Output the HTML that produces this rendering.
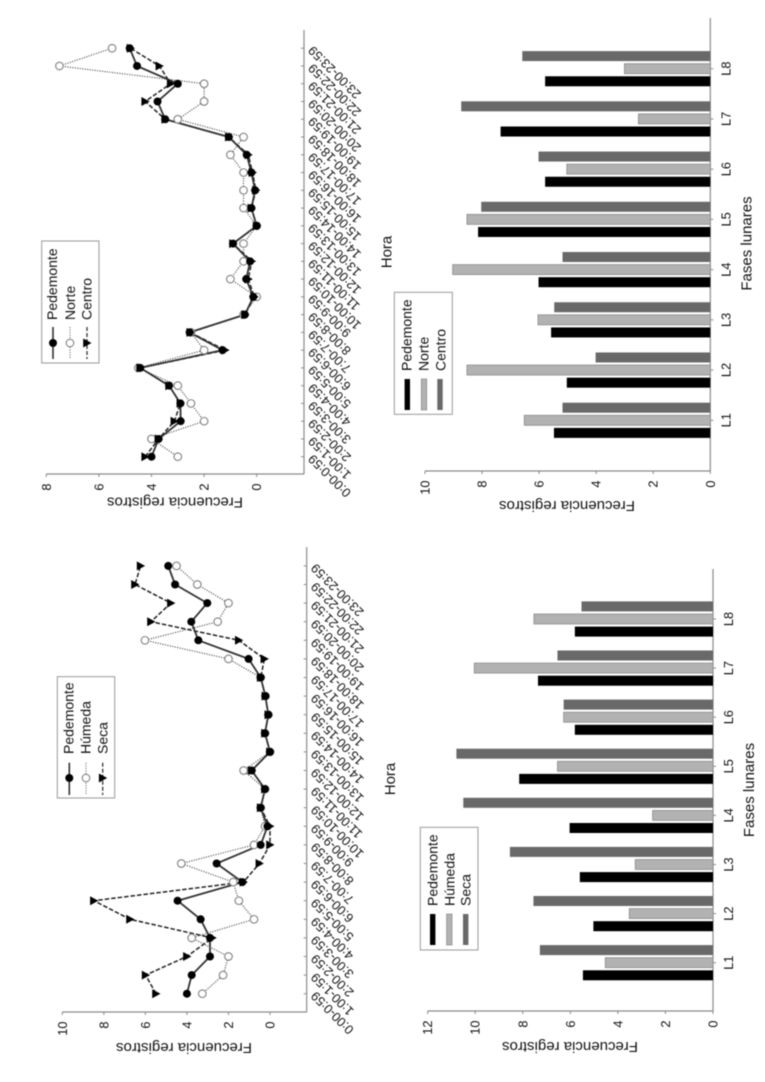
<!DOCTYPE html>
<html lang="es">
<head>
<meta charset="utf-8">
<title>Frecuencia de registros por hora y fase lunar</title>
<style>
html,body{margin:0;padding:0;background:#fff;}
svg{display:block;filter:blur(0.5px);}
text{font-family:"Liberation Sans",Arial,sans-serif;fill:#111;}
.title{font-size:15px;}
.legend{font-size:14px;}
.tick{font-size:12.8px;}
</style>
</head>
<body>
<svg id="figure" xmlns="http://www.w3.org/2000/svg" width="765" height="1082" viewBox="0 0 765 1082">
  <rect x="0" y="0" width="765" height="1082" fill="#fff"/>

  <!-- Panel A titles and legend -->
  <text class="title" text-anchor="middle" transform="translate(175 502.7) rotate(180) translate(0 5)">Frecuencia registros</text>
  <text class="title" text-anchor="middle" transform="translate(391.7 252) rotate(-90)">Hora</text>
  <g>
    <rect x="41.7" y="241" width="57.3" height="122" fill="#fff" stroke="#999" stroke-width="1"/>
    <line x1="53" x2="53" y1="327" y2="359" stroke="#333" stroke-width="1.6"/>
    <circle cx="53" cy="343" r="4" fill="#000"/>
    <line x1="70" x2="70" y1="327" y2="359" stroke="#555" stroke-width="1" stroke-dasharray="1 1.5"/>
    <circle cx="70" cy="343" r="3.8" fill="#fff" stroke="#777" stroke-width="1"/>
    <line x1="87" x2="87" y1="327" y2="359" stroke="#333" stroke-width="1.3" stroke-dasharray="4 2"/>
    <polygon points="83.2,338.5 83.2,347.5 91.5,343" fill="#000"/>
    <text class="legend" transform="translate(57 320) rotate(-90)">Pedemonte</text>
    <text class="legend" transform="translate(75 320) rotate(-90)">Norte</text>
    <text class="legend" transform="translate(91.5 320) rotate(-90)">Centro</text>
  </g>

  <!-- Panel B titles and legend -->
  <text class="title" text-anchor="middle" transform="translate(567 506) rotate(180) translate(0 5)">Frecuencia registros</text>
  <text class="title" text-anchor="middle" transform="translate(751.7 243.5) rotate(-90)">Fases lunares</text>
  <g>
    <rect x="394.3" y="292.3" width="58" height="122" fill="#fff" stroke="#999" stroke-width="1"/>
    <rect x="404.6" y="379" width="5.4" height="31" fill="#000"/>
    <rect x="421.3" y="379" width="5.4" height="31" fill="#b2b2b2" stroke="#888" stroke-width="0.7"/>
    <rect x="437.3" y="379" width="5.4" height="31" fill="#696969"/>
    <text class="legend" transform="translate(411.7 371) rotate(-90)">Pedemonte</text>
    <text class="legend" transform="translate(428.7 371) rotate(-90)">Norte</text>
    <text class="legend" transform="translate(445.3 371) rotate(-90)">Centro</text>
  </g>

  <!-- Panel C titles and legend -->
  <text class="title" text-anchor="middle" transform="translate(184 1048) rotate(180) translate(0 5)">Frecuencia registros</text>
  <text class="title" text-anchor="middle" transform="translate(395 779) rotate(-90)">Hora</text>
  <g>
    <rect x="57.3" y="676.7" width="57.4" height="121.3" fill="#fff" stroke="#999" stroke-width="1"/>
    <line x1="69.3" x2="69.3" y1="762.7" y2="795" stroke="#333" stroke-width="1.6"/>
    <circle cx="69.3" cy="778" r="4" fill="#000"/>
    <line x1="86" x2="86" y1="762.7" y2="795" stroke="#555" stroke-width="1" stroke-dasharray="1 1.5"/>
    <circle cx="86" cy="778" r="3.8" fill="#fff" stroke="#777" stroke-width="1"/>
    <line x1="102.7" x2="102.7" y1="762.7" y2="795" stroke="#333" stroke-width="1.3" stroke-dasharray="4 2"/>
    <polygon points="98.9,773.5 98.9,782.5 107.2,778" fill="#000"/>
    <text class="legend" transform="translate(73.3 754) rotate(-90)">Pedemonte</text>
    <text class="legend" transform="translate(90.7 754) rotate(-90)">Húmeda</text>
    <text class="legend" transform="translate(107.3 754) rotate(-90)">Seca</text>
  </g>

  <!-- Panel D titles and legend -->
  <text class="title" text-anchor="middle" transform="translate(570 1047) rotate(180) translate(0 5)">Frecuencia registros</text>
  <text class="title" text-anchor="middle" transform="translate(754 790) rotate(-90)">Fases lunares</text>
  <g>
    <rect x="420.3" y="827.3" width="57.7" height="122.7" fill="#fff" stroke="#999" stroke-width="1"/>
    <rect x="430" y="914" width="5.4" height="31" fill="#000"/>
    <rect x="446.6" y="914" width="5.4" height="31" fill="#b2b2b2" stroke="#888" stroke-width="0.7"/>
    <rect x="463" y="914" width="5.4" height="31" fill="#696969"/>
    <text class="legend" transform="translate(437.3 906) rotate(-90)">Pedemonte</text>
    <text class="legend" transform="translate(454.3 906) rotate(-90)">Húmeda</text>
    <text class="legend" transform="translate(470.3 906) rotate(-90)">Seca</text>
  </g>
</svg>

<script>
// Shared categories
const hourLabels = ["0:00-0:59","1:00-1:59","2:00-2:59","3:00-3:59","4:00-4:59","5:00-5:59","6:00-6:59","7:00-7:59","8:00-8:59","9:00-9:59","10:00-10:59","11:00-11:59","12:00-12:59","13:00-13:59","14:00-14:59","15:00-15:59","16:00-16:59","17:00-17:59","18:00-18:59","19:00-19:59","20:00-20:59","21:00-21:59","22:00-22:59","23:00-23:59"];
const phaseLabels = ["L1","L2","L3","L4","L5","L6","L7","L8"];

// Panel A: hourly, Pedemonte / Norte / Centro
const hourNorthTicks = [0,2,4,6,8];
const hourNorthPedemonte = [4,3.73,2.89,2.9,3.33,4.43,1.3,2.55,0.45,0.13,0.4,0.25,0.9,0,0.2,0.06,0.2,0.38,1.06,3.48,3.77,3,4.55,4.83];
const hourNorthNorte = [3,4,2,2.5,3,4.5,2,2.5,0.5,0,1,0.5,0.5,0,0.5,0.5,0.5,1,0.5,3,2,2,7.5,5.5];
const hourNorthCentro = [4.24,3.73,3.13,2.9,3.33,4.43,1.2,2.53,0.44,0.09,0.32,0.19,0.9,0,0.2,0.03,0.16,0.32,1.06,3.48,4.24,3.27,3.7,4.8];

// Panel C: hourly, Pedemonte / Humeda / Seca
const hourHumidityTicks = [0,2,4,6,8,10];
const hourHumidityPedemonte = [4,3.77,2.89,2.89,3.34,4.45,1.33,2.57,0.45,0.12,0.45,0.24,0.88,0,0.24,0.08,0.22,0.45,1.03,3.45,3.79,3.02,4.57,4.9];
const hourHumidityHumeda = [3.26,2.26,2,3.77,0.77,1.5,1.77,4.27,0.77,0.24,0.45,0.24,1.27,0,0.24,0.08,0.22,0.45,2,6.02,2.52,2,3.5,4.5];
const hourHumiditySeca = [5.49,5.99,4,2.78,6.74,8.48,1.28,0.51,0,0,0.45,0.24,0.88,0,0.24,0.08,0.22,0.45,0.27,1.5,5.73,4.77,6.5,6.23];

// Panel B: lunar phases, Pedemonte / Norte / Centro
const phaseNorthTicks = [0,2,4,6,8,10];
const phaseNorthPedemonte = [5.48,5.03,5.58,6.02,8.14,5.79,7.35,5.79];
const phaseNorthNorte = [6.52,8.53,6.04,9.03,8.53,5.03,2.52,3.01];
const phaseNorthCentro = [5.18,4.02,5.47,5.18,8.03,6.02,8.73,6.59];

// Panel D: lunar phases, Pedemonte / Humeda / Seca
const phaseHumidityTicks = [0,2,4,6,8,10,12];
const phaseHumidityPedemonte = [5.47,5.03,5.6,6.03,8.15,5.81,7.36,5.81];
const phaseHumidityHumeda = [4.53,3.52,3.27,2.54,6.54,6.28,10.04,7.53];
const phaseHumiditySeca = [7.28,7.55,8.54,10.5,10.79,6.28,6.54,5.53];

const SVG_NS = "http://www.w3.org/2000/svg";
const figure = document.getElementById("figure");

function mark(parent, tag, attrs, name, text) {
  const el = document.createElementNS(SVG_NS, tag);
  for (const key in attrs) el.setAttribute(key, attrs[key]);
  
  
  if (text !== undefined) el.textContent = text;
  parent.appendChild(el);
  return el;
}

// The figure is rotated a quarter turn: values grow leftwards, categories grow upwards.
function drawAxes(g, frame, ticks, labels) {
  const valueX = v => frame.zeroX - v * frame.unit;
  const catY = i => frame.firstY - i * frame.step;
  mark(g, "line", {x1: frame.axisX, x2: frame.axisX, y1: frame.top, y2: frame.bottom, stroke: "#8a8a8a", "stroke-width": 1.2}, "category-axis-line");
  mark(g, "line", {x1: valueX(ticks[ticks.length - 1]), x2: frame.axisX, y1: frame.bottom, y2: frame.bottom, stroke: "#8a8a8a", "stroke-width": 1.2}, "value-axis-line");
  ticks.forEach(t => {
    mark(g, "line", {x1: valueX(t), x2: valueX(t), y1: frame.bottom, y2: frame.bottom + 3, stroke: "#8a8a8a", "stroke-width": 1}, "value-tick-" + t);
    mark(g, "text", {class: "tick", "text-anchor": "end", transform: "translate(" + (valueX(t) + 4.5) + " " + (frame.bottom + 9.5) + ") rotate(-90)"}, "value-tick-label-" + t, String(t));
  });
  labels.forEach((label, i) => {
    const y = catY(i);
    mark(g, "line", {x1: frame.axisX + frame.tickDir * 0.5, x2: frame.axisX + frame.tickDir * 3, y1: y, y2: y, stroke: "#8a8a8a", "stroke-width": 1}, "category-tick-" + label);
    if (frame.slanted) {
      mark(g, "text", {class: "tick", "text-anchor": "end", transform: "translate(" + (frame.axisX + 9.5) + " " + (y - 3) + ") rotate(-135)"}, "category-label-" + label, label);
    } else {
      mark(g, "text", {class: "tick", "text-anchor": "middle", transform: "translate(" + (frame.axisX + 20) + " " + y + ") rotate(-90)"}, "category-label-" + label, label);
    }
  });
  return {valueX, catY};
}

function drawLineSeries(g, scales, values, style, name) {
  const pts = values.map((v, i) => scales.valueX(v).toFixed(1) + "," + scales.catY(i).toFixed(1)).join(" ");
  mark(g, "polyline", {points: pts, fill: "none", stroke: style.stroke, "stroke-width": style.width, "stroke-dasharray": style.dash, "stroke-linejoin": "round"}, name + "-line");
}

function drawMarkers(g, scales, values, kind, name) {
  values.forEach((v, i) => {
    const x = scales.valueX(v), y = scales.catY(i);
    if (kind === "filled") {
      mark(g, "circle", {cx: x, cy: y, r: 4, fill: "#000"}, name + "-point-" + i);
    } else if (kind === "open") {
      mark(g, "circle", {cx: x, cy: y, r: 3.8, fill: "#fff", stroke: "#808080", "stroke-width": 1.1}, name + "-point-" + i);
    } else {
      const p = [[x - 3.8, y - 4.5], [x - 3.8, y + 4.5], [x + 4.5, y]].map(q => q[0].toFixed(1) + "," + q[1].toFixed(1)).join(" ");
      mark(g, "polygon", {points: p, fill: "#000"}, name + "-point-" + i);
    }
  });
}

function lineChart(name, frame, ticks, solid, dotted, dashed, names) {
  const g = mark(figure, "g", {}, name);
  const scales = drawAxes(g, frame, ticks, hourLabels);
  drawLineSeries(g, scales, dotted, {stroke: "#333", width: 1.1, dash: "1 1.5"}, names[1]);
  drawLineSeries(g, scales, dashed, {stroke: "#222", width: 1.5, dash: "4.5 2"}, names[2]);
  drawLineSeries(g, scales, solid, {stroke: "#333", width: 1.8, dash: "none"}, names[0]);
  drawMarkers(g, scales, dotted, "open", names[1]);
  drawMarkers(g, scales, dashed, "triangle", names[2]);
  drawMarkers(g, scales, solid, "filled", names[0]);
}

function barChart(name, frame, ticks, first, second, third, names) {
  const g = mark(figure, "g", {}, name);
  const scales = drawAxes(g, frame, ticks, phaseLabels);
  const series = [
    {values: first, offset: 12.6, fill: "#000", stroke: "none", label: names[0]},
    {values: second, offset: 0, fill: "#b2b2b2", stroke: "#8c8c8c", label: names[1]},
    {values: third, offset: -12.6, fill: "#696969", stroke: "none", label: names[2]}
  ];
  series.forEach(s => {
    s.values.forEach((v, i) => {
      const x = scales.valueX(v);
      const y = scales.catY(i) + s.offset - 5;
      mark(g, "rect", {x: x, y: y, width: frame.axisX - x, height: 10, fill: s.fill, stroke: s.stroke, "stroke-width": 0.8}, s.label + "-bar-" + phaseLabels[i]);
    });
  });
}

lineChart("hour-chart-north",
  {zeroX: 256.7, unit: 26.3, firstY: 456.7, step: 17.76, axisX: 304, top: 30, bottom: 474, tickDir: -1, slanted: true},
  hourNorthTicks, hourNorthPedemonte, hourNorthNorte, hourNorthCentro, ["pedemonte", "norte", "centro"]);

lineChart("hour-chart-humidity",
  {zeroX: 270, unit: 20.77, firstY: 993.7, step: 18.6, axisX: 306.7, top: 547, bottom: 1012, tickDir: -1, slanted: true},
  hourHumidityTicks, hourHumidityPedemonte, hourHumidityHumeda, hourHumiditySeca, ["pedemonte", "humeda", "seca"]);

barChart("phase-chart-north",
  {zeroX: 710.3, unit: 28.53, firstY: 420.3, step: 50.23, axisX: 710.3, top: 18, bottom: 471, tickDir: 1, slanted: false},
  phaseNorthTicks, phaseNorthPedemonte, phaseNorthNorte, phaseNorthCentro, ["pedemonte", "norte", "centro"]);

barChart("phase-chart-humidity",
  {zeroX: 713, unit: 23.78, firstY: 962.7, step: 49.1, axisX: 713, top: 569, bottom: 1011, tickDir: 1, slanted: false},
  phaseHumidityTicks, phaseHumidityPedemonte, phaseHumidityHumeda, phaseHumiditySeca, ["pedemonte", "humeda", "seca"]);
</script>
</body>
</html>
